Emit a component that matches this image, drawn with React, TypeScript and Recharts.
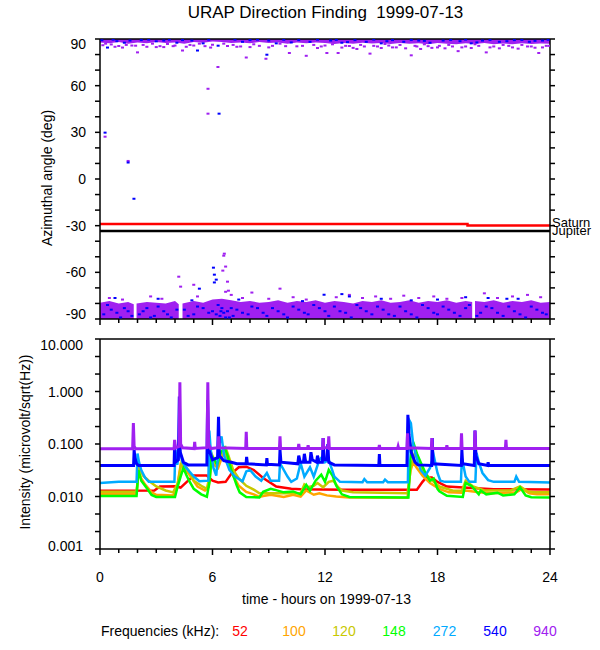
import React from "react";
import { ComposedChart, XAxis, YAxis, Line, Area, Scatter } from "recharts";

const FONT = "'Liberation Sans', Arial, sans-serif";
const INK = "#000";

const hourTicks = [0, 1, 2, 3, 4, 5, 6, 7, 8, 9, 10, 11, 12, 13, 14, 15, 16, 17, 18, 19, 20, 21, 22, 23, 24];
const hourLabels = [0, 6, 12, 18, 24];
const angleTicks = [-90, -80, -70, -60, -50, -40, -30, -20, -10, 0, 10, 20, 30, 40, 50, 60, 70, 80, 90];
const angleLabels = [-90, -60, -30, 0, 30, 60, 90];
const intensityTicks = [0.001, 0.00215, 0.00464, 0.01, 0.0215, 0.0464, 0.1, 0.215, 0.464, 1, 2.15, 4.64, 10];
const intensityLabels = [0.001, 0.01, 0.1, 1, 10];

// top panel: dense band near +90 (lower edge, deg)
const upperBand = [
  [0, 87.7], [0.5, 87.2], [1, 88], [1.5, 87], [2, 87.7], [2.5, 87.2], [3, 88], [3.5, 87.4], [4, 87.8],
  [4.5, 87], [5, 88], [5.5, 87.6], [6, 88.4], [6.5, 88], [7, 87.4], [7.5, 87.8], [8, 87.2], [8.5, 88],
  [9, 87.4], [9.5, 87.8], [10, 87], [10.5, 87.7], [11, 87.2], [11.5, 87.8], [12, 87.4], [12.5, 86.8],
  [13, 87.5], [13.5, 87], [14, 87.6], [14.5, 87.1], [15, 87.4], [15.5, 86.8], [16, 87.5], [16.5, 87],
  [17, 87.2], [17.5, 86.7], [18, 87.4], [18.5, 87], [19, 86.6], [19.5, 87.2], [20, 86.8], [20.5, 87.4],
  [21, 86.7], [21.5, 87.1], [22, 86.6], [22.5, 87.2], [23, 86.8], [23.5, 87.1], [24, 86.9],
];

// top panel: dense band near -90 (upper edge, deg; null = data gap)
const lowerBand = [
  [0, -79.5], [0.5, -78.5], [1, -80], [1.5, -79], [1.8, -80.5], [1.85, null], [1.95, -80], [2.5, -79],
  [3, -79.5], [3.5, -80], [4, -78.5], [4.2, -80.5], [4.3, null], [4.4, -80], [5, -78.5], [5.5, -79.5],
  [6, -77.5], [6.5, -77], [7, -78], [7.5, -79], [8, -78.5], [8.5, -79.5], [9, -79], [9.5, -78], [10, -79.5],
  [10.5, -78.5], [11, -79], [11.5, -78], [12, -79.5], [12.5, -78.5], [13, -79], [13.5, -80], [14, -78.5],
  [14.5, -79], [15, -78], [15.5, -79.5], [16, -79], [16.5, -78], [17, -79.5], [17.5, -78.5], [18, -79],
  [18.5, -78], [19, -79.5], [19.5, -78.5], [19.85, -79], [19.9, null], [20, -78.5], [20.5, -79], [21, -78],
  [21.5, -79.5], [22, -78.5], [22.5, -79], [23, -78], [23.5, -79.5], [24, -79],
];

const purpleDots = [
  [0.3, 87], [0.6, 86.5], [1.0, 85.5], [1.4, 86.2], [1.7, 85.8], [2.0, 81.4], [2.3, 86.2], [2.8, 87], [3.2, 85.4],
  [3.6, 86.8], [4.0, 85.8], [4.4, 82.6], [4.8, 86.2], [5.3, 87], [5.6, 85.4], [6.0, 86.3], [6.6, 87], [7.1, 86.2],
  [7.5, 85.2], [7.8, 78.1], [8.2, 86.6], [8.85, 77.3], [9.2, 85.6], [9.6, 87], [10.1, 81], [10.5, 85.3], [11.0, 79.2],
  [11.4, 86.2], [11.8, 85.2], [12.1, 81], [12.4, 86.6], [12.7, 81], [13.1, 85.6], [13.5, 84.3], [13.9, 86.2],
  [14.4, 80.6], [14.8, 85.2], [15.2, 86.8], [15.6, 84.6], [16.0, 86.2], [16.6, 79.5], [16.9, 85.2], [17.3, 86.6],
  [17.7, 84.3], [18.1, 85.6], [18.6, 86.2], [19.1, 82.2], [19.5, 85.2], [20.0, 86.6], [20.6, 81.4], [21.0, 85.2],
  [21.5, 86.2], [22.0, 84.6], [22.5, 86.2], [23.0, 85.2], [23.4, 81], [23.8, 85.6],
  [0.15, 86], [0.8, 85], [1.2, 84.5], [1.9, 85.7], [2.5, 85], [3.0, 84.8], [3.4, 84.8], [3.9, 85.4], [4.6, 85],
  [5.0, 85.8], [5.9, 84.5], [6.8, 85.5], [7.3, 85], [8.0, 84.8], [8.5, 85.6], [9.0, 84.6], [9.9, 85.4], [10.8, 85.6],
  [11.6, 84.2], [12.0, 85.8], [12.9, 84.5], [13.3, 85.5], [13.7, 83.6], [14.1, 85.2], [14.6, 85.6], [15.0, 84.2],
  [15.4, 85.8], [15.8, 84.6], [16.3, 84], [16.8, 85.6], [17.1, 83.6], [17.5, 85.4], [18.0, 84.6], [18.4, 84],
  [18.8, 85.2], [19.3, 84.6], [19.8, 84.2], [20.2, 85.6], [20.8, 84.6], [21.3, 84], [21.8, 85.6], [22.3, 83.8],
  [22.8, 85.2], [23.2, 84.4], [23.6, 84.6], [23.95, 85.6],
  [0.27, 27.2], [1.5, 11.6], [5.76, 58], [5.76, 42], [6.29, 72],
  [4.2, -62.8], [4.3, -69.2], [5.0, -68], [6.63, -48], [6.6, -49.3], [6.7, -56.3], [6.55, -58.9], [6.8, -66],
  [6.7, -72.5], [6.85, -71.8], [8.1, -73], [9.6, -70.5],
  [0.5, -76.5], [1.2, -77.5], [2.7, -75.5], [3.3, -77], [5.2, -75.5], [7.0, -74.5], [7.6, -76.5], [9.0, -77],
  [10.3, -76], [11.0, -77.5], [12.6, -76], [13.3, -74.5], [14.0, -76.5], [14.7, -75.5], [15.5, -77], [16.2, -75],
  [17.0, -76.5], [17.8, -75.5], [18.5, -77], [19.3, -76.5], [20.5, -73.5], [21.2, -76.5], [22.0, -75.5],
  [22.8, -74.5], [23.5, -76],
];

const blueDots = [
  [0.1, 89.2], [0.4, 84.5], [0.9, 88.6], [1.6, 89], [2.2, 89.3], [3.0, 88.5], [3.4, 89], [4.1, 87.6], [4.9, 89],
  [5.2, 82.6], [5.5, 87.2], [6.3, 85.7], [7.6, 88.2], [8.0, 89.3], [8.9, 79.9], [9.0, 89], [9.4, 87.2], [10.6, 89.3],
  [11.2, 88.2], [12.3, 89], [12.9, 87.6], [13.6, 89.3], [14.2, 88.2], [15.0, 87.2], [15.6, 89.3], [16.2, 88.2],
  [17.0, 89], [17.6, 87.6], [18.3, 89], [19.2, 88.6], [19.8, 87.2], [20.4, 89], [21.3, 88.2], [22.1, 89.3],
  [22.9, 88.2], [23.6, 89],
  [0.7, 89.6], [1.3, 87.6], [2.6, 89.6], [3.7, 89.6], [4.4, 89.3], [5.8, 89.6], [7.2, 89.6], [8.4, 89.6],
  [9.8, 89.5], [10.2, 87.8], [11.6, 89.6], [12.6, 89.4], [13.2, 88], [14.6, 89.6], [15.3, 88.6], [16.6, 89.4],
  [17.3, 88.8], [18.7, 89.4], [19.5, 89.6], [20.1, 87.8], [20.8, 89.4], [21.7, 88.6], [22.5, 89.4], [23.2, 88.8],
  [23.9, 89.5],
  [0.27, 29.8], [1.5, 10.6], [1.81, -12.7], [6.35, 42],
  [6.05, -57], [6.1, -61.5], [6.2, -64.7], [6.1, -66.5], [5.3, -70.5], [11.95, -74.4],
  [0.2, -87], [0.6, -84], [1.1, -89], [1.5, -85], [2.1, -87], [2.5, -83], [2.9, -88], [3.4, -85], [3.8, -89],
  [4.5, -84], [5.0, -87], [5.5, -83], [6.0, -85], [6.2, -87], [6.4, -88], [6.5, -83], [6.6, -86], [6.8, -85],
  [6.9, -89], [7.1, -88], [7.3, -84], [7.9, -87], [8.4, -83], [8.9, -88], [9.5, -85], [10.0, -89], [10.6, -84],
  [11.1, -87], [11.7, -83], [12.2, -88], [12.8, -85], [13.4, -89], [13.9, -83], [14.5, -87], [15.1, -84],
  [15.7, -88], [16.3, -85], [16.9, -89], [17.5, -83], [18.0, -87], [18.6, -84], [19.2, -88], [19.7, -81],
  [20.3, -86], [20.9, -83], [21.5, -88], [22.1, -85], [22.7, -89], [23.3, -84], [23.8, -87],
  [0.4, -81], [0.9, -86], [1.3, -83], [1.7, -88], [2.3, -85], [2.7, -89], [3.1, -82], [3.6, -87], [4.1, -84],
  [4.7, -88], [5.2, -82], [5.8, -86], [6.3, -81], [6.45, -85], [6.7, -89], [7.0, -83], [7.6, -86], [8.1, -82],
  [8.7, -86], [9.2, -83], [9.8, -87], [10.3, -82], [10.9, -86], [11.4, -81], [12.0, -85], [12.5, -82],
  [13.1, -86], [13.7, -81], [14.2, -85], [14.8, -82], [15.4, -87], [16.0, -82], [16.6, -87], [17.2, -81],
  [17.8, -86], [18.3, -82], [18.9, -86], [19.5, -83], [20.1, -88], [20.6, -82], [21.2, -86], [21.8, -82],
  [22.4, -87], [23.0, -82], [23.6, -86],
  [0.8, -76.5], [3.1, -77], [4.9, -78], [7.4, -77.5], [10.8, -78.5], [12.9, -74], [13.3, -75.5], [15.0, -77],
  [16.6, -78], [18.0, -77.5], [19.5, -76], [20.7, -76.5], [21.7, -77], [22.3, -77],
];

const saturn = [[0, -29], [19.6, -29], [19.6, -29.9], [24, -29.9]];
const jupiter = [[0, -33.5], [24, -33.5]];

// bottom panel: intensity per frequency [hour, microvolt/sqrt(Hz)]
const f52 = [
  [0, 0.0129], [2.9, 0.013], [3.2, 0.0155], [4.0, 0.0157], [4.3, 0.0148], [4.7, 0.02], [5.0, 0.025], [5.7, 0.025],
  [6.0, 0.02], [6.3, 0.0185], [6.7, 0.019], [7.0, 0.027], [7.4, 0.036], [7.8, 0.037], [8.2, 0.032], [8.7, 0.0225],
  [9.4, 0.0155], [10.2, 0.014], [10.7, 0.0137], [13, 0.0135], [16.9, 0.0135], [17.2, 0.019], [17.4, 0.023],
  [17.7, 0.023], [18.0, 0.019], [18.5, 0.0155], [19.6, 0.0147], [21, 0.0138], [24, 0.0136],
];
const f100 = [
  [0, 0.0112], [1.95, 0.0112], [2.05, 0.03], [2.2, 0.022], [2.4, 0.017], [2.75, 0.012], [3.0, 0.0108], [3.9, 0.0105],
  [4.1, 0.014], [4.3, 0.04], [4.5, 0.035], [4.8, 0.025], [5.2, 0.0155], [5.6, 0.013], [5.8, 0.015], [5.95, 0.05],
  [6.1, 0.04], [6.3, 0.035], [6.6, 0.07], [6.8, 0.05], [7.1, 0.025], [7.4, 0.016], [7.8, 0.0122], [8.2, 0.011],
  [8.5, 0.0098], [8.7, 0.0102], [9.1, 0.0108], [9.8, 0.0098], [10.3, 0.0108], [10.7, 0.01], [11.0, 0.013],
  [11.4, 0.0108], [11.7, 0.0115], [12.1, 0.0105], [12.6, 0.01], [13.3, 0.0096], [16.4, 0.0095], [16.55, 0.03],
  [16.7, 0.045], [16.9, 0.035], [17.2, 0.025], [17.6, 0.018], [18.1, 0.014], [18.6, 0.012], [19.3, 0.0118],
  [19.5, 0.013], [20.2, 0.012], [20.9, 0.0115], [22.2, 0.012], [22.5, 0.014], [22.9, 0.0115], [23.3, 0.011], [24, 0.011],
];
const f120 = [
  [0, 0.0123], [1.95, 0.0123], [2.08, 0.036], [2.3, 0.025], [2.6, 0.02], [3.0, 0.0155], [3.5, 0.013], [3.9, 0.012],
  [4.15, 0.018], [4.35, 0.045], [4.5, 0.04], [4.7, 0.032], [5.0, 0.02], [5.4, 0.016], [5.7, 0.014], [5.85, 0.025],
  [5.95, 0.065], [6.1, 0.05], [6.25, 0.04], [6.45, 0.07], [6.7, 0.085], [6.85, 0.06], [7.1, 0.032], [7.4, 0.022],
  [7.8, 0.016], [8.2, 0.0135], [8.5, 0.0115], [10.7, 0.0115], [10.9, 0.017], [11.1, 0.015], [11.4, 0.016],
  [11.6, 0.018], [11.9, 0.015], [12.2, 0.019], [12.45, 0.02], [12.7, 0.015], [12.9, 0.013], [13.5, 0.012],
  [16.4, 0.0115], [16.6, 0.04], [16.8, 0.068], [17.0, 0.045], [17.2, 0.032], [17.6, 0.022], [18.1, 0.0155],
  [18.8, 0.013], [19.3, 0.0128], [19.5, 0.02], [19.9, 0.0155], [20.5, 0.013], [21.9, 0.013], [22.4, 0.0155],
  [22.8, 0.0125], [23.2, 0.012], [24, 0.012],
];
const f148 = [
  [0, 0.0102], [1.95, 0.0102], [2.05, 0.032], [2.2, 0.02], [2.5, 0.0143], [2.75, 0.0107], [3.0, 0.0098], [4.0, 0.0098],
  [4.15, 0.016], [4.3, 0.024], [4.45, 0.035], [4.6, 0.026], [4.75, 0.02], [5.0, 0.014], [5.4, 0.011], [5.7, 0.0099],
  [5.85, 0.02], [5.95, 0.06], [6.1, 0.05], [6.25, 0.04], [6.45, 0.07], [6.65, 0.085], [6.8, 0.06], [7.0, 0.032],
  [7.3, 0.016], [7.45, 0.012], [7.8, 0.0098], [8.5, 0.0096], [8.7, 0.0123], [9.1, 0.014], [9.3, 0.0135], [9.8, 0.012],
  [10.3, 0.0125], [10.7, 0.011], [11.0, 0.0166], [11.2, 0.013], [11.5, 0.02], [11.8, 0.026], [12.0, 0.019],
  [12.2, 0.032], [12.4, 0.025], [12.6, 0.016], [12.9, 0.011], [13.3, 0.0098], [16.45, 0.0096], [16.55, 0.05],
  [16.7, 0.11], [16.9, 0.066], [17.1, 0.045], [17.4, 0.026], [17.6, 0.02], [17.8, 0.022], [18.0, 0.014],
  [18.1, 0.0125], [18.5, 0.0103], [19.35, 0.0098], [19.5, 0.018], [19.8, 0.016], [20.2, 0.011], [20.3, 0.013],
  [20.6, 0.011], [21.2, 0.0118], [21.5, 0.0105], [22.1, 0.011], [22.4, 0.015], [22.7, 0.0105], [23.0, 0.0097], [24, 0.0096],
];
const f272 = [
  [0, 0.018], [1.0, 0.019], [1.95, 0.019], [2.0, 0.066], [2.08, 0.045], [2.2, 0.032], [2.4, 0.023], [2.6, 0.019],
  [3.97, 0.019], [4.02, 0.077], [4.12, 0.04], [4.25, 0.077], [4.4, 0.045], [4.6, 0.035], [5.0, 0.024], [5.3, 0.0195],
  [5.78, 0.02], [5.83, 0.18], [5.9, 0.08], [6.05, 0.035], [6.2, 0.025], [6.35, 0.1], [6.48, 0.14], [6.62, 0.06],
  [6.9, 0.032], [7.2, 0.024], [7.6, 0.0195], [7.8, 0.03], [8.0, 0.032], [8.3, 0.024], [8.6, 0.02], [8.9, 0.028],
  [9.1, 0.02], [9.55, 0.02], [9.6, 0.043], [10.0, 0.024], [10.2, 0.019], [10.5, 0.022], [10.7, 0.043], [10.9, 0.024],
  [11.2, 0.036], [11.4, 0.024], [11.7, 0.05], [11.85, 0.057], [12.0, 0.045], [12.2, 0.05], [12.5, 0.024],
  [12.8, 0.019], [14.0, 0.0187], [14.1, 0.0215], [14.25, 0.0187], [15.1, 0.0187], [15.2, 0.021], [15.35, 0.0187],
  [16.42, 0.0187], [16.48, 0.29], [16.58, 0.25], [16.7, 0.1], [16.85, 0.06], [17.1, 0.032], [17.35, 0.025],
  [17.6, 0.035], [17.8, 0.06], [18.0, 0.028], [18.15, 0.02], [18.4, 0.019], [19.25, 0.019], [19.3, 0.054],
  [19.5, 0.024], [19.7, 0.019], [20.02, 0.019], [20.08, 0.068], [20.2, 0.045], [20.4, 0.028], [20.7, 0.0205],
  [21.0, 0.019], [22.1, 0.019], [22.2, 0.024], [22.35, 0.019], [24, 0.0185],
];
const f540 = [
  [0, 0.039], [1.79, 0.039], [1.82, 0.077], [1.86, 0.055], [1.95, 0.042], [2.05, 0.039], [3.95, 0.039], [3.98, 0.1],
  [4.02, 0.045], [4.18, 0.05], [4.23, 0.8], [4.28, 0.07], [4.45, 0.045], [4.7, 0.04], [5.7, 0.04], [5.74, 0.69],
  [5.79, 0.08], [6.0, 0.05], [6.27, 0.055], [6.32, 0.33], [6.37, 0.06], [6.6, 0.048], [7.0, 0.045], [7.3, 0.042],
  [7.79, 0.042], [7.82, 0.057], [7.86, 0.042], [8.87, 0.04], [8.9, 0.054], [8.93, 0.041], [9.57, 0.04], [9.6, 0.077],
  [9.65, 0.045], [10.55, 0.042], [10.6, 0.06], [10.68, 0.045], [10.85, 0.045], [10.9, 0.065], [10.97, 0.045],
  [11.2, 0.045], [11.25, 0.07], [11.32, 0.05], [11.55, 0.045], [11.6, 0.06], [11.67, 0.045], [11.86, 0.045],
  [11.9, 0.13], [11.95, 0.05], [12.1, 0.05], [12.15, 0.1], [12.2, 0.045], [12.5, 0.04], [14.87, 0.039],
  [14.9, 0.064], [14.93, 0.039], [16.37, 0.039], [16.42, 0.36], [16.48, 0.15], [16.6, 0.07], [16.8, 0.045],
  [16.95, 0.04], [17.69, 0.039], [17.72, 0.13], [17.76, 0.042], [19.27, 0.039], [19.3, 0.077], [19.34, 0.042],
  [19.96, 0.039], [20.0, 0.18], [20.05, 0.06], [20.2, 0.042], [20.67, 0.039], [20.7, 0.045], [20.73, 0.039], [24, 0.039],
];
const f940 = [
  [0, 0.081], [1.74, 0.081], [1.78, 0.25], [1.82, 0.09], [1.9, 0.081], [3.95, 0.081], [3.98, 0.12], [4.02, 0.085],
  [4.22, 0.09], [4.26, 1.5], [4.3, 0.1], [4.4, 0.085], [5.02, 0.082], [5.05, 0.11], [5.08, 0.082], [5.71, 0.085],
  [5.75, 1.5], [5.79, 0.1], [5.9, 0.082], [6.29, 0.085], [6.33, 0.14], [6.37, 0.085], [7.77, 0.082], [7.8, 0.17],
  [7.83, 0.082], [9.57, 0.082], [9.6, 0.14], [9.63, 0.082], [10.57, 0.082], [10.6, 0.1], [10.63, 0.082],
  [11.07, 0.082], [11.1, 0.095], [11.13, 0.082], [11.87, 0.082], [11.9, 0.13], [11.93, 0.085], [12.17, 0.085],
  [12.2, 0.14], [12.23, 0.082], [14.87, 0.082], [14.9, 0.096], [14.93, 0.082], [15.87, 0.082], [15.9, 0.09],
  [15.93, 0.082], [16.37, 0.082], [16.4, 0.16], [16.43, 0.085], [17.67, 0.082], [17.7, 0.13], [17.73, 0.082],
  [18.47, 0.082], [18.5, 0.095], [18.53, 0.082], [19.25, 0.082], [19.28, 0.16], [19.31, 0.082], [19.97, 0.082],
  [20.0, 0.18], [20.03, 0.082], [21.62, 0.082], [21.65, 0.12], [21.68, 0.082], [24, 0.082],
];

const freqLabels = ["52", "100", "120", "148", "272", "540", "940"];
const freqColors = ["#ff0000", "#ffa500", "#c8c800", "#00ff00", "#00aaff", "#0000ff", "#a020f0"];
const freqSeries = [f52, f100, f120, f148, f272, f540, f940];
const legendX = [240, 294, 344, 394, 444.5, 495, 545];

const PURPLE = "#a020f0";
const BLUE = "#0000ff";

const toXY = (pts: any[]) => pts.map(([x, y]) => ({ x, y }));

const HourTick = (side: "top" | "bottom", labels: boolean) => (p: any) => {
  const { x, y, payload } = p;
  const v = payload.value;
  const major = v % 6 === 0;
  const len = major ? 6 : 4;
  const y2 = side === "top" ? y - len : y + len;
  return (
    <g>
      <line x1={x} x2={x} y1={y} y2={y2} stroke={INK} strokeWidth={1.5} />
      {labels && hourLabels.includes(v) && (
        <text x={x} y={y + 33} textAnchor="middle" fontSize={14} fontFamily={FONT} fill={INK}>
          {v}
        </text>
      )}
    </g>
  );
};

const SideTick = (side: "left" | "right", kind: "angle" | "intensity" | "none") => (p: any) => {
  const { x, y, payload } = p;
  const v = payload.value;
  let label: string | null = null;
  let shift = 0;
  if (kind === "angle" && angleLabels.includes(v)) {
    label = String(v);
    shift = v === 90 ? 5 : v === -90 ? -5 : 0;
  }
  if (kind === "intensity" && intensityLabels.includes(v)) {
    label = v.toFixed(3);
    shift = v === 10 ? 5.5 : v === 0.001 ? -3.5 : 0;
  }
  const len = 5;
  const x2 = side === "left" ? x - len : x + len;
  const gap = kind === "angle" ? 14 : 17;
  return (
    <g>
      <line x1={x} x2={x2} y1={y} y2={y} stroke={INK} strokeWidth={1.5} />
      {label && (
        <text x={x - gap} y={y + shift + 5} textAnchor="end" fontSize={14} fontFamily={FONT} fill={INK}>
          {label}
        </text>
      )}
    </g>
  );
};

const Dash = (color: string) => (p: any) =>
  p.cx == null ? <g /> : <rect x={p.cx - 1.5} y={p.cy - 1} width={3} height={2} fill={color} />;

const axisLine = { stroke: INK, strokeWidth: 1.5 };

const hourAxes = (labels: boolean, topH: number, botH: number) => [
  <XAxis
    key="xb"
    xAxisId="b"
    dataKey="x"
    type="number"
    domain={[0, 24]}
    allowDataOverflow
    ticks={hourTicks}
    interval={0}
    height={botH}
    tickSize={0}
    tickMargin={0}
    tickLine={false}
    axisLine={axisLine}
    tick={HourTick("bottom", labels)}
  />,
  <XAxis
    key="xt"
    xAxisId="t"
    orientation="top"
    type="number"
    domain={[0, 24]}
    allowDataOverflow
    ticks={hourTicks}
    interval={0}
    height={topH}
    tickSize={0}
    tickMargin={0}
    tickLine={false}
    axisLine={axisLine}
    tick={HourTick("top", false)}
  />,
];

const AnglePanel = () => (
  <ComposedChart width={600} height={325} margin={{ top: 0, right: 0, bottom: 0, left: 0 }}>
    {hourAxes(false, 39, 6)}
    <YAxis
      yAxisId="l"
      dataKey="y"
      type="number"
      domain={[-90, 90]}
      allowDataOverflow
      ticks={angleTicks}
      interval={0}
      width={100}
      tickSize={0}
      tickMargin={0}
      tickLine={false}
      axisLine={axisLine}
      tick={SideTick("left", "angle")}
    />
    <YAxis
      yAxisId="r"
      orientation="right"
      type="number"
      domain={[-90, 90]}
      allowDataOverflow
      ticks={angleTicks}
      interval={0}
      width={50}
      tickSize={0}
      tickMargin={0}
      tickLine={false}
      axisLine={axisLine}
      tick={SideTick("right", "none")}
    />
    <Area
      xAxisId="b"
      yAxisId="l"
      data={upperBand.map(([x, lo]) => ({ x, r: [lo, 90] }))}
      dataKey="r"
      type="linear"
      stroke="none"
      fill={PURPLE}
      fillOpacity={1}
      isAnimationActive={false}
    />
    <Area
      xAxisId="b"
      yAxisId="l"
      data={lowerBand.map(([x, hi]) => ({ x, r: hi == null ? null : [-90, hi] }))}
      dataKey="r"
      type="linear"
      stroke="none"
      fill={PURPLE}
      fillOpacity={1}
      isAnimationActive={false}
    />
    <Scatter xAxisId="b" yAxisId="l" data={toXY(purpleDots)} dataKey="y" shape={Dash(PURPLE)} isAnimationActive={false} />
    <Scatter xAxisId="b" yAxisId="l" data={toXY(blueDots)} dataKey="y" shape={Dash(BLUE)} isAnimationActive={false} />
    <Line xAxisId="b" yAxisId="l" data={toXY(saturn)} dataKey="y" stroke="#ff0000" strokeWidth={2.5} dot={false} type="linear" isAnimationActive={false} />
    <Line xAxisId="b" yAxisId="l" data={toXY(jupiter)} dataKey="y" stroke="#000" strokeWidth={2.5} dot={false} type="linear" isAnimationActive={false} />
  </ComposedChart>
);

const IntensityPanel = () => (
  <ComposedChart width={600} height={300} margin={{ top: 0, right: 0, bottom: 0, left: 0 }}>
    {hourAxes(true, 39, 51)}
    <YAxis
      yAxisId="l"
      dataKey="y"
      type="number"
      scale="log"
      domain={[0.001, 10]}
      allowDataOverflow
      ticks={intensityTicks}
      interval={0}
      width={100}
      tickSize={0}
      tickMargin={0}
      tickLine={false}
      axisLine={axisLine}
      tick={SideTick("left", "intensity")}
    />
    <YAxis
      yAxisId="r"
      orientation="right"
      type="number"
      scale="log"
      domain={[0.001, 10]}
      allowDataOverflow
      ticks={intensityTicks}
      interval={0}
      width={50}
      tickSize={0}
      tickMargin={0}
      tickLine={false}
      axisLine={axisLine}
      tick={SideTick("right", "none")}
    />
    {freqSeries.map((s, i) => (
      <Line
        key={freqLabels[i]}
        xAxisId="b"
        yAxisId="l"
        data={toXY(s)}
        dataKey="y"
        stroke={freqColors[i]}
        strokeWidth={i >= 5 ? 3 : 2.5}
        dot={false}
        type="linear"
        isAnimationActive={false}
      />
    ))}
  </ComposedChart>
);

const text = (extra: React.CSSProperties): React.CSSProperties => ({
  position: "absolute",
  fontFamily: FONT,
  color: INK,
  whiteSpace: "nowrap",
  ...extra,
});

export default function App() {
  return (
    <div style={{ position: "absolute", left: 0, top: 0, width: 600, height: 650, background: "#fff", overflow: "hidden" }}>
      <div style={text({ left: 0, top: 3, width: 651, textAlign: "center", fontSize: 17, lineHeight: "20px" })}>
        URAP Direction Finding&nbsp;&nbsp;1999-07-13
      </div>
      <div style={{ position: "absolute", left: 0, top: 0 }}>
        <AnglePanel />
      </div>
      <div style={{ position: "absolute", left: 0, top: 300 }}>
        <IntensityPanel />
      </div>
      <div
        style={text({
          left: 46.5 - 110,
          top: 178 - 9,
          width: 220,
          height: 18,
          lineHeight: "18px",
          textAlign: "center",
          fontSize: 14,
          transform: "rotate(-90deg)",
        })}
      >
        Azimuthal angle (deg)
      </div>
      <div
        style={text({
          left: 25 - 130,
          top: 442 - 9,
          width: 260,
          height: 18,
          lineHeight: "18px",
          textAlign: "center",
          fontSize: 14,
          transform: "rotate(-90deg)",
        })}
      >
        Intensity (microvolt/sqrt(Hz))
      </div>
      <div style={text({ left: 552, top: 216, fontSize: 13, lineHeight: "14px" })}>Saturn</div>
      <div style={text({ left: 552, top: 224, fontSize: 13, lineHeight: "14px" })}>Jupiter</div>
      <div style={text({ left: 0, top: 590, width: 653, textAlign: "center", fontSize: 14, lineHeight: "18px" })}>
        time - hours on 1999-07-13
      </div>
      <div style={text({ left: 101, top: 622, fontSize: 14, lineHeight: "18px" })}>Frequencies (kHz):</div>
      {freqLabels.map((f, i) => (
        <div
          key={f}
          style={text({ left: legendX[i] - 20, top: 622, width: 40, textAlign: "center", fontSize: 14, lineHeight: "18px", color: freqColors[i] })}
        >
          {f}
        </div>
      ))}
    </div>
  );
}
